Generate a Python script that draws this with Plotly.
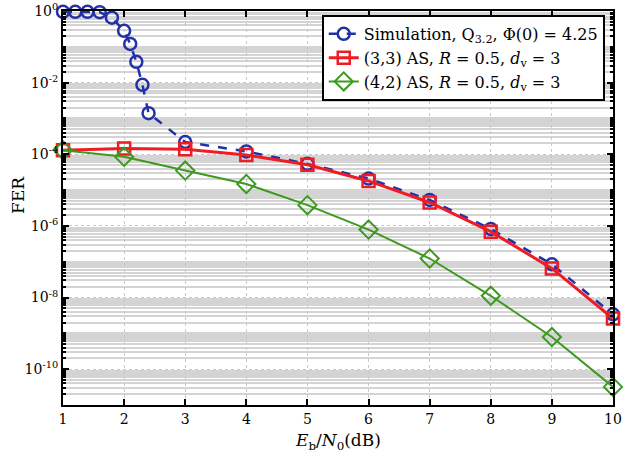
import plotly.graph_objects as go

# ---- data ----
sim_x = [1.0, 1.2, 1.4, 1.6, 1.8, 2.0, 2.1, 2.2, 2.3, 2.4, 3, 4, 5, 6, 7, 8, 9, 10]
sim_y = [0.95, 0.95, 0.95, 0.93, 0.65, 0.28, 0.12, 0.038, 0.0087, 0.0014,
         2.2e-4, 1.2e-4, 5.4e-5, 2.1e-5, 5.3e-6, 8.2e-7, 8.5e-8, 3.4e-9]

snr = [1, 2, 3, 4, 5, 6, 7, 8, 9, 10]
as33_y = [1.3e-4, 1.45e-4, 1.38e-4, 9.5e-5, 5.1e-5, 1.8e-5, 4.5e-6, 6.9e-7, 6.5e-8, 2.6e-9]
as42_y = [1.3e-4, 8.5e-5, 3.5e-5, 1.48e-5, 3.8e-6, 7.9e-7, 1.23e-7, 1.12e-8, 7.9e-10, 3.2e-11]

x_ticks = [1, 2, 3, 4, 5, 6, 7, 8, 9, 10]
y_tick_vals = [1, 1e-2, 1e-4, 1e-6, 1e-8, 1e-10]
y_tick_text = ["10<sup>0</sup>", "10<sup>-2</sup>", "10<sup>-4</sup>",
               "10<sup>-6</sup>", "10<sup>-8</sup>", "10<sup>-10</sup>"]

names = ["Simulation, Q<sub>3.2</sub>, Φ(0) = 4.25",
         "(3,3) AS, <i>R</i> = 0.5, <i>d</i><sub>v</sub> = 3",
         "(4,2) AS, <i>R</i> = 0.5, <i>d</i><sub>v</sub> = 3"]
x_title = "<i>E</i><sub>b</sub>/<i>N</i><sub>0</sub>(dB)"
y_title = "FER"

BLUE = "#2331a8"
RED = "#ee1c25"
GREEN = "#3d9a1e"
FONT = "DejaVu Serif"

fig = go.Figure()
fig.add_trace(go.Scatter(
    x=sim_x, y=sim_y, name=names[0], mode="lines+markers",
    line=dict(color=BLUE, width=2.5, dash="dash"),
    marker=dict(symbol="circle-open", size=12, color=BLUE, line=dict(width=2.5, color=BLUE)),
    cliponaxis=False))
fig.add_trace(go.Scatter(
    x=snr, y=as33_y, name=names[1], mode="lines+markers",
    line=dict(color=RED, width=3),
    marker=dict(symbol="square-open", size=12, color=RED, line=dict(width=2.5, color=RED)),
    cliponaxis=False))
fig.add_trace(go.Scatter(
    x=snr, y=as42_y, name=names[2], mode="lines+markers",
    line=dict(color=GREEN, width=2),
    marker=dict(symbol="diamond-open", size=14, color=GREEN, line=dict(width=2, color=GREEN)),
    cliponaxis=False))

minor_vals = []
for d in range(-11, 1):
    for k in range(2, 10):
        minor_vals.append(k * 10.0 ** d)
odd_decades = [10.0 ** d for d in (-1, -3, -5, -7, -9)]

fig.update_layout(
    width=629, height=452,
    margin=dict(l=63, r=16, t=11, b=47),
    paper_bgcolor="white", plot_bgcolor="white",
    font=dict(family=FONT, size=14, color="black"),
    showlegend=True,
    legend=dict(
        x=0.985, y=0.99, xanchor="right", yanchor="top",
        bgcolor="white", bordercolor="black", borderwidth=2,
        font=dict(family=FONT, size=16, color="black"),
        itemwidth=30, tracegroupgap=0,
    ),
    xaxis=dict(
        range=[1, 10], tickvals=x_ticks,
        showline=True, linecolor="black", linewidth=2, mirror="ticks",
        ticks="inside", ticklen=6, tickwidth=2, tickcolor="black",
        showgrid=True, gridcolor="#c8c8c8", gridwidth=1, griddash="dot",
        zeroline=False, automargin=False,
        tickfont=dict(family=FONT, size=14, color="black"),
    ),
    yaxis=dict(
        type="log", range=[-11, 0],
        tickvals=y_tick_vals, ticktext=y_tick_text,
        showline=True, linecolor="black", linewidth=2, mirror="ticks",
        ticks="inside", ticklen=6, tickwidth=2, tickcolor="black",
        showgrid=True, gridcolor="#c8c8c8", gridwidth=1, griddash="dot",
        zeroline=False, automargin=False,
        tickfont=dict(family=FONT, size=14, color="black"),
        minor=dict(tickvals=minor_vals + odd_decades, ticks="inside", ticklen=3,
                   tickcolor="black", tickwidth=1.5,
                   showgrid=True, gridcolor="#d4d4d4", gridwidth=1.5, griddash="solid"),
    ),
    annotations=[
        dict(text=x_title, xref="paper", yref="paper", x=0.5, y=-0.092,
             xanchor="center", yanchor="middle", showarrow=False,
             font=dict(family=FONT, size=17, color="black")),
        dict(text=y_title, xref="paper", yref="paper", x=-0.082, y=0.533,
             xanchor="center", yanchor="middle", showarrow=False, textangle=-90,
             font=dict(family=FONT, size=17, color="black")),
    ],
)

fig.write_html("out.html", config={"displayModeBar": False},
               post_script="document.body.style.margin='0';document.body.style.padding='0';")
